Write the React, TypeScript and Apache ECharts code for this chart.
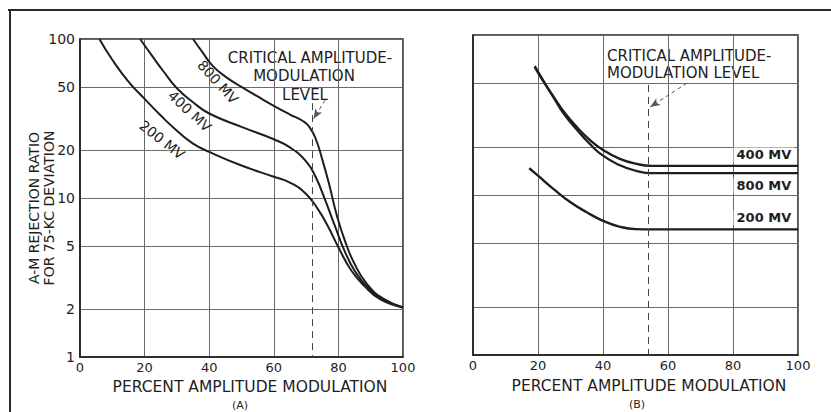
import React, { useEffect, useRef } from "react";
import * as echarts from "echarts";

// ---------- data ----------
const xTicks = [0, 20, 40, 60, 80, 100];
const yTicks = [1, 2, 5, 10, 20, 50, 100];

// (A) A-M rejection ratio vs percent amplitude modulation
const a200mv: [number, number][] = [
  [6, 100], [10, 74], [15, 54], [20, 42], [25, 33], [30, 26.5], [35, 22], [40, 19.5],
  [50, 16], [60, 13.6], [65, 12.5], [70, 10.6], [74, 8.3], [77, 6.5], [80, 4.9],
  [84, 3.5], [88, 2.8], [93, 2.3], [100, 2.05],
];
const a400mv: [number, number][] = [
  [18.6, 100], [22, 80], [26, 62], [30, 49], [35, 40], [40, 34], [50, 28], [60, 23.4],
  [65, 20.8], [70, 17], [73, 13.5], [76, 9.6], [79, 6.6], [82, 4.6], [85, 3.5],
  [89, 2.75], [94, 2.3], [100, 2.05],
];
const a800mv: [number, number][] = [
  [35, 100], [38, 82], [41, 68], [45, 58], [50, 50], [55, 43.5], [60, 38], [65, 33.5],
  [69, 30.5], [71, 28], [73, 23.5], [75, 17.5], [77, 12.5], [79.5, 7.8], [82, 5.4],
  [85, 3.85], [89, 2.85], [94, 2.32], [100, 2.05],
];

// (B)
const b400mv: [number, number][] = [
  [19, 63], [22, 50], [25, 40.5], [28, 33], [32, 26.5], [36, 22], [40, 19.1], [45, 16.9],
  [50, 15.7], [55, 15.2], [60, 15.2], [100, 15.2],
];
const b800mv: [number, number][] = [
  [19, 64], [22, 50.5], [25, 40], [28, 32], [32, 25.5], [36, 20.8], [40, 17.6], [45, 15.4],
  [50, 14.2], [55, 13.7], [60, 13.7], [100, 13.7],
];
const b200mv: [number, number][] = [
  [17.3, 14.7], [20, 13.2], [25, 10.8], [30, 9], [35, 7.8], [40, 6.9], [45, 6.35],
  [50, 6.12], [55, 6.1], [100, 6.1],
];

const criticalA = 72;
const criticalB = 54;

// ---------- helpers ----------
const L = (v: number) => Math.log10(v);
const toLog = (pts: [number, number][]) => pts.map(([x, y]) => [x, L(y)]);
const FONT = "DejaVu Sans";
const INK = "#1e1e1e";

function yAxis(gridIndex: number, showLabels: boolean) {
  return {
    type: "value",
    gridIndex,
    min: 0,
    max: 2,
    axisLine: { show: true, lineStyle: { color: INK, width: 1.5 } },
    axisTick: { show: false, customValues: yTicks.map(L) },
    axisLabel: {
      show: showLabels,
      customValues: yTicks.map(L),
      formatter: (v: number) => String(Math.round(Math.pow(10, v))),
      color: INK,
      fontFamily: FONT,
      fontSize: 14,
      margin: 5,
    },
    splitLine: { show: true, lineStyle: { color: "#6a6a6a", width: 1 } },
  };
}

function xAxis(gridIndex: number) {
  return {
    type: "value",
    gridIndex,
    min: 0,
    max: 100,
    interval: 20,
    axisLine: { show: true, lineStyle: { color: INK, width: 1.5 } },
    axisTick: { show: false },
    axisLabel: {
      color: INK,
      fontFamily: FONT,
      fontSize: 13,
      margin: 4,
      customValues: xTicks,
    },
    splitLine: { show: true, lineStyle: { color: "#6a6a6a", width: 1 } },
  };
}

function curve(data: [number, number][], idx: number, width: number, marks?: any) {
  return {
    type: "line",
    xAxisIndex: idx,
    yAxisIndex: idx,
    data: toLog(data),
    smooth: 0.5,
    showSymbol: false,
    symbol: "none",
    lineStyle: { color: INK, width },
    silent: true,
    ...(marks || {}),
  };
}

function rotLabel(name: string, x: number, y: number, rot: number) {
  return {
    name,
    coord: [x, L(y)],
    symbol: "circle",
    symbolSize: 1,
    itemStyle: { color: "rgba(0,0,0,0)" },
    label: {
      show: true,
      formatter: "{b}",
      position: "inside",
      rotate: rot,
      color: INK,
      fontFamily: FONT,
      fontSize: 14,
    },
  };
}

function boxLabel(name: string, x: number, y: number) {
  return {
    name,
    coord: [x, L(y)],
    symbol: "circle",
    symbolSize: 1,
    itemStyle: { color: "rgba(0,0,0,0)" },
    label: {
      show: true,
      formatter: "{b}",
      position: "inside",
      color: INK,
      fontFamily: FONT,
      fontWeight: "bold",
      fontSize: 13,
      backgroundColor: "#ffffff",
      padding: [1, 3],
    },
  };
}

function criticalMarks(xc: number, topVal: number, arrowFrom: [number, number], arrowTo: [number, number]) {
  return {
    animation: false,
    silent: true,
    symbol: ["none", "none"],
    label: { show: false },
    data: [
      [
        { coord: [xc, L(topVal)], lineStyle: { type: [7, 5], color: "#444", width: 1 } },
        { coord: [xc, 0] },
      ],
      [
        { coord: [arrowFrom[0], L(arrowFrom[1])], lineStyle: { type: [4, 3], color: "#555", width: 1 } },
        { coord: [arrowTo[0], L(arrowTo[1])], symbol: "arrow", symbolSize: [6, 10] },
      ],
    ],
  };
}

export default function App() {
  const ref = useRef<HTMLDivElement>(null);

  useEffect(() => {
    if (!ref.current) return;
    const chart = echarts.init(ref.current, undefined, { renderer: "svg" });

    const textStyle = (size: number) => ({ fill: INK, font: `${size}px "${FONT}"` });

    chart.setOption({
      animation: false,
      backgroundColor: "#ffffff",
      grid: [
        { left: 80, top: 39, width: 323, height: 318, show: true, borderColor: INK, borderWidth: 1.5 },
        { left: 473, top: 35, width: 325, height: 320, show: true, borderColor: INK, borderWidth: 1.5 },
      ],
      xAxis: [xAxis(0), xAxis(1)],
      yAxis: [yAxis(0, true), yAxis(1, false)],
      series: [
        curve(a200mv, 0, 2, {
          markPoint: { data: [rotLabel("200 MV", 25.4, 23.2, -38)] },
        }),
        curve(a400mv, 0, 2, {
          markPoint: { data: [rotLabel("400 MV", 34, 35.2, -43)] },
        }),
        curve(a800mv, 0, 2, {
          markPoint: { data: [rotLabel("800 MV", 42.7, 53.7, -48)] },
          markLine: criticalMarks(criticalA, 39.5, [75.9, 41.3], [72.3, 31.5]),
        }),
        curve(b400mv, 1, 2.4, {
          markPoint: { data: [boxLabel("400 MV", 89.5, 17.8)] },
          markLine: criticalMarks(criticalB, 48.7, [65.8, 50], [54.5, 35.5]),
        }),
        curve(b800mv, 1, 2.2, {
          markPoint: { data: [boxLabel("800 MV", 89.5, 11.4)] },
        }),
        curve(b200mv, 1, 2.4, {
          markPoint: { data: [boxLabel("200 MV", 89.5, 7.2)] },
        }),
      ],
      graphic: [
        // frame
        { type: "line", shape: { x1: 8, y1: 10, x2: 831, y2: 10 }, style: { stroke: "#2a2a2a", lineWidth: 2 } },
        { type: "line", shape: { x1: 10, y1: 10, x2: 10, y2: 412 }, style: { stroke: "#2a2a2a", lineWidth: 2 } },
        // (A) annotation
        { type: "text", x: 310, y: 58, style: { text: "CRITICAL AMPLITUDE-", ...textStyle(15), textAlign: "center", textVerticalAlign: "middle" } },
        { type: "text", x: 304, y: 76, style: { text: "MODULATION", ...textStyle(15), textAlign: "center", textVerticalAlign: "middle" } },
        { type: "text", x: 305, y: 95, style: { text: "LEVEL", ...textStyle(15), textAlign: "center", textVerticalAlign: "middle" } },
        // (B) annotation
        { type: "text", x: 607, y: 56, style: { text: "CRITICAL AMPLITUDE-", ...textStyle(15), textAlign: "left", textVerticalAlign: "middle" } },
        { type: "text", x: 607, y: 73, style: { text: "MODULATION LEVEL", ...textStyle(15), textAlign: "left", textVerticalAlign: "middle" } },
        // axis names
        { type: "text", x: 250, y: 387, style: { text: "PERCENT AMPLITUDE MODULATION", ...textStyle(15.5), textAlign: "center", textVerticalAlign: "middle" } },
        { type: "text", x: 649, y: 386, style: { text: "PERCENT AMPLITUDE MODULATION", ...textStyle(15.5), textAlign: "center", textVerticalAlign: "middle" } },
        { type: "text", x: 240, y: 405, style: { text: "(A)", ...textStyle(11), textAlign: "center", textVerticalAlign: "middle" } },
        { type: "text", x: 637, y: 404, style: { text: "(B)", ...textStyle(11), textAlign: "center", textVerticalAlign: "middle" } },
        { type: "text", x: 34, y: 208, rotation: Math.PI / 2, style: { text: "A-M REJECTION RATIO", ...textStyle(14), textAlign: "center", textVerticalAlign: "middle" } },
        { type: "text", x: 49, y: 208, rotation: Math.PI / 2, style: { text: "FOR 75-KC DEVIATION", ...textStyle(14), textAlign: "center", textVerticalAlign: "middle" } },
      ],
    });

    return () => chart.dispose();
  }, []);

  return (
    <div
      ref={ref}
      style={{ position: "fixed", left: 0, top: 0, width: 831, height: 412, background: "#fff" }}
    />
  );
}
